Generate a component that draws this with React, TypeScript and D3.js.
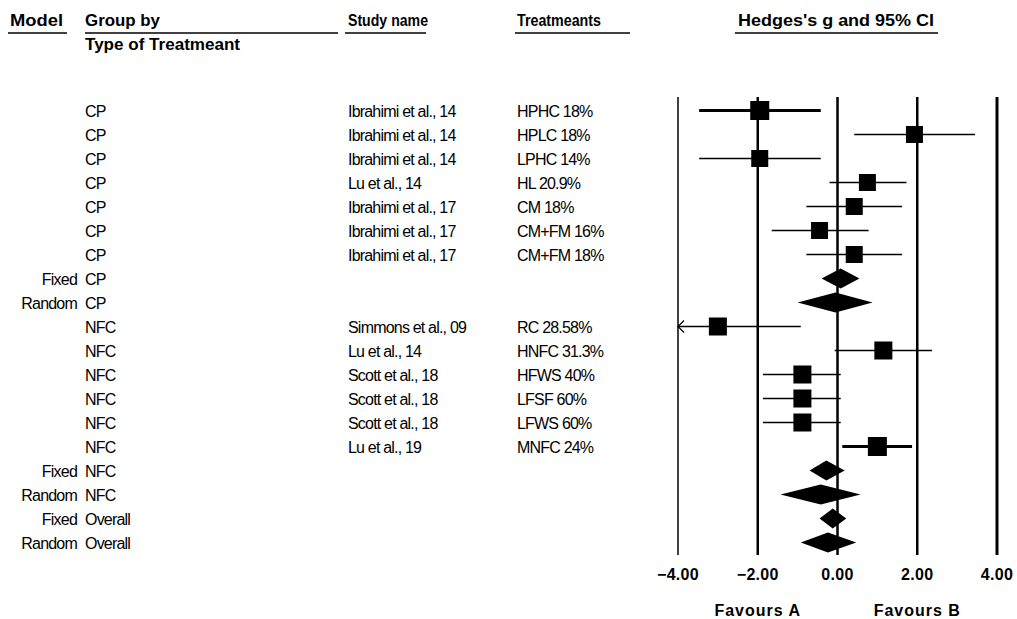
import React, { useEffect, useRef } from 'react';
import * as d3 from 'd3';

// rows of the forest plot, top to bottom
const modelLabels = ['', '', '', '', '', '', '', 'Fixed', 'Random', '', '', '', '', '', '', 'Fixed', 'Random', 'Fixed', 'Random'];
const groupLabels = ['CP', 'CP', 'CP', 'CP', 'CP', 'CP', 'CP', 'CP', 'CP', 'NFC', 'NFC', 'NFC', 'NFC', 'NFC', 'NFC', 'NFC', 'NFC', 'Overall', 'Overall'];
const studyNames = [
	'Ibrahimi et al., 14', 'Ibrahimi et al., 14', 'Ibrahimi et al., 14', 'Lu et al., 14',
	'Ibrahimi et al., 17', 'Ibrahimi et al., 17', 'Ibrahimi et al., 17', '', '',
	'Simmons et al., 09', 'Lu et al., 14', 'Scott et al., 18', 'Scott et al., 18', 'Scott et al., 18', 'Lu et al., 19',
	'', '', '', ''
];
const treatments = [
	'HPHC 18%', 'HPLC 18%', 'LPHC 14%', 'HL 20.9%', 'CM 18%', 'CM+FM 16%', 'CM+FM 18%', '', '',
	'RC 28.58%', 'HNFC 31.3%', 'HFWS 40%', 'LFSF 60%', 'LFWS 60%', 'MNFC 24%', '', '', '', ''
];
const isSummary = [false, false, false, false, false, false, false, true, true, false, false, false, false, false, false, true, true, true, true];
const effects = [-1.95, 1.93, -1.95, 0.75, 0.42, -0.45, 0.42, 0.08, -0.05, -3.0, 1.15, -0.88, -0.88, -0.88, 1.0, -0.28, -0.42, -0.12, -0.24];
const lowers = [-3.47, 0.42, -3.47, -0.2, -0.78, -1.65, -0.78, -0.4, -1.0, -4.6, -0.07, -1.87, -1.87, -1.87, 0.12, -0.7, -1.43, -0.45, -0.92];
const uppers = [-0.42, 3.45, -0.42, 1.73, 1.62, 0.78, 1.62, 0.55, 0.88, -0.92, 2.37, 0.08, 0.08, 0.08, 1.87, 0.18, 0.58, 0.22, 0.47];
const weights = [19, 17, 17, 17, 17, 17, 17, 0, 0, 18, 18, 18, 18, 18, 19, 0, 0, 0, 0];
const ciWidths = [3, 1.5, 1.5, 1.5, 1.5, 1.5, 1.5, 0, 0, 1.5, 1.5, 1.5, 1.5, 1.5, 3, 0, 0, 0, 0];

const xTicks = [-4, -2, 0, 2, 4];
const favours = ['Favours A', 'Favours B'];

const ForestPlot = () => {
	const chartRef = useRef<SVGSVGElement>(null);

	useEffect(() => {
		if (!chartRef.current) return;
		const svg = d3.select(chartRef.current);
		svg.selectAll('*').remove();

		const font = 'Liberation Sans, Arial, sans-serif';
		const x = d3.scaleLinear().domain([-4, 4]).range([678, 997]);
		const y = d3.scaleLinear().domain([0, modelLabels.length - 1]).range([110.5, 542.5]);

		// column headers
		const headers = [
			{ text: 'Model', x: 10, w: 53, u0: 8, u1: 67 },
			{ text: 'Group by', x: 85, w: 75, u0: 85, u1: 338 },
			{ text: 'Study name', x: 348, w: 80, u0: 345, u1: 426 },
			{ text: 'Treatmeants', x: 517, w: 84, u0: 515, u1: 630 },
			{ text: "Hedges's g and 95% CI", x: 738, w: 196, u0: 735, u1: 938 }
		];
		headers.forEach(h => {
			svg.append('text')
				.attr('x', h.x).attr('y', 26)
				.attr('textLength', h.w).attr('lengthAdjust', 'spacingAndGlyphs')
				.style('font-family', font).style('font-size', '16px').style('font-weight', 'bold')
				.text(h.text);
			svg.append('line')
				.attr('x1', h.u0).attr('x2', h.u1).attr('y1', 33).attr('y2', 33)
				.attr('stroke', '#000').attr('stroke-width', 1.5);
		});
		svg.append('text')
			.attr('x', 85).attr('y', 50)
			.attr('textLength', 155).attr('lengthAdjust', 'spacingAndGlyphs')
			.style('font-family', font).style('font-size', '16px').style('font-weight', 'bold')
			.text('Type of Treatmeant');

		// row labels
		const body = (sel: any) => sel.style('font-family', font).style('font-size', '16px').style('letter-spacing', '-0.8px');
		modelLabels.forEach((d, i) => {
			const yy = y(i) + 6;
			if (d) body(svg.append('text').attr('x', 77).attr('y', yy).attr('text-anchor', 'end').text(d));
			body(svg.append('text').attr('x', 85).attr('y', yy).text(groupLabels[i]));
			if (studyNames[i]) body(svg.append('text').attr('x', 348).attr('y', yy).text(studyNames[i]));
			if (treatments[i]) body(svg.append('text').attr('x', 517).attr('y', yy).text(treatments[i]));
		});

		// vertical reference lines
		svg.selectAll('.vline')
			.data(xTicks)
			.enter().append('line')
			.attr('x1', d => x(d)).attr('x2', d => x(d))
			.attr('y1', 97).attr('y2', 555)
			.attr('stroke', '#000')
			.attr('stroke-width', d => (d === -4 ? 1.5 : d === 4 ? 3 : 2.5));

		// study rows
		modelLabels.forEach((_, i) => {
			const cy = y(i);
			if (isSummary[i]) {
				const h = 10;
				const pts = [[x(lowers[i]), cy], [x(effects[i]), cy - h], [x(uppers[i]), cy], [x(effects[i]), cy + h]];
				svg.append('path')
					.attr('d', d3.line()(pts as [number, number][]) + 'Z')
					.attr('fill', '#000');
				return;
			}
			const lo = Math.max(lowers[i], -4);
			svg.append('line')
				.attr('x1', x(lo)).attr('x2', x(uppers[i]))
				.attr('y1', cy).attr('y2', cy)
				.attr('stroke', '#000').attr('stroke-width', ciWidths[i]);
			if (lowers[i] < -4) {
				svg.append('path')
					.attr('d', `M${x(-4) + 6},${cy - 6}L${x(-4)},${cy}L${x(-4) + 6},${cy + 6}`)
					.attr('fill', 'none').attr('stroke', '#000').attr('stroke-width', 1.2);
			}
			const s = weights[i];
			svg.append('rect')
				.attr('x', x(effects[i]) - s / 2).attr('y', cy - s / 2)
				.attr('width', s).attr('height', s)
				.attr('fill', '#000');
		});

		// axis labels
		svg.selectAll('.tick-label')
			.data(xTicks)
			.enter().append('text')
			.attr('x', d => x(d)).attr('y', 580)
			.attr('text-anchor', 'middle')
			.style('font-family', font).style('font-size', '16px').style('font-weight', 'bold')
			.style('letter-spacing', '0.3px')
			.text(d => d3.format('.2f')(d));

		svg.selectAll('.fav')
			.data(favours)
			.enter().append('text')
			.attr('x', (d, i) => x(i === 0 ? -2 : 2)).attr('y', 616)
			.attr('text-anchor', 'middle')
			.style('font-family', font).style('font-size', '16px').style('font-weight', 'bold')
			.style('letter-spacing', '1px')
			.text(d => d);
	}, []);

	return <svg ref={chartRef} width={1017} height={619} style={{ position: 'absolute', left: 0, top: 0, background: '#fff' }} />;
};

export default function App() {
	return <ForestPlot />;
}
